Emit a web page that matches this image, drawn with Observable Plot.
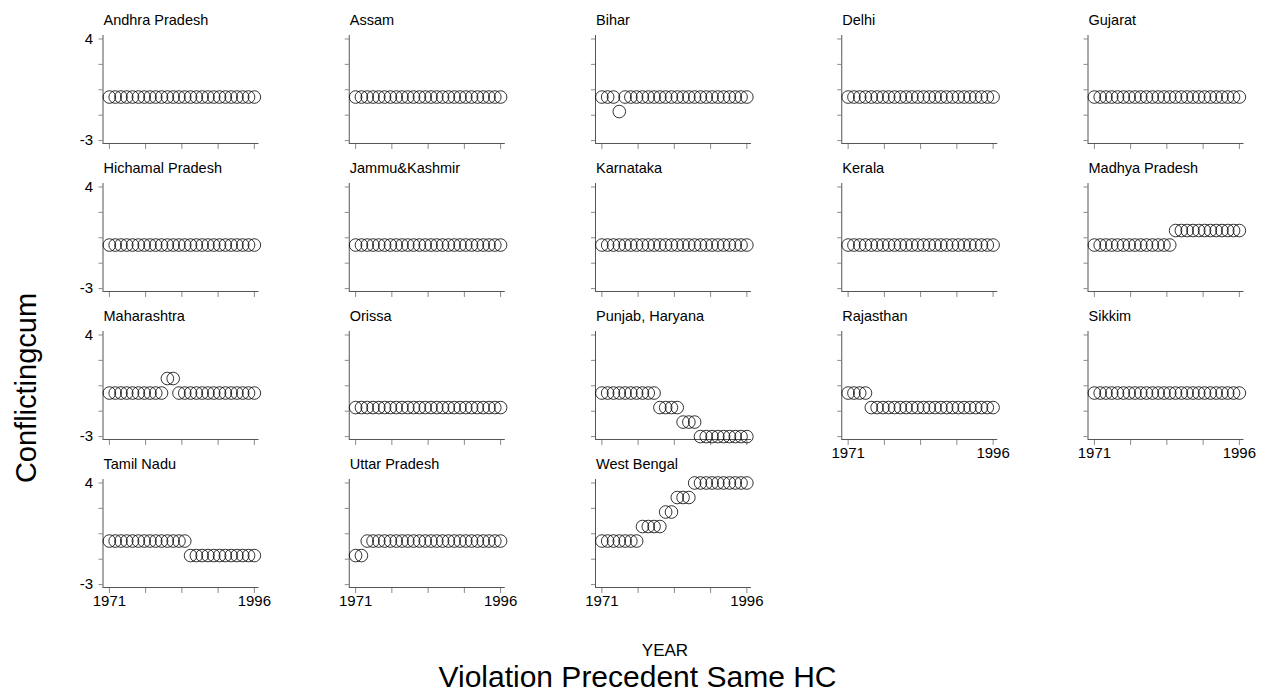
<!DOCTYPE html>
<html>
<head>
<meta charset="utf-8">
<script src="https://cdn.jsdelivr.net/npm/d3@7"></script>
<script src="https://cdn.jsdelivr.net/npm/@observablehq/plot@0.6"></script>
<style>
  html, body { margin: 0; padding: 0; background: #ffffff; }
  #chart { width: 1266px; height: 693px; }
</style>
</head>
<body>
<div id="chart"></div>
<script>
// ---- data ----
const states = [
  "Andhra Pradesh", "Assam", "Bihar", "Delhi", "Gujarat",
  "Hichamal Pradesh", "Jammu&Kashmir", "Karnataka", "Kerala", "Madhya Pradesh",
  "Maharashtra", "Orissa", "Punjab, Haryana", "Rajasthan", "Sikkim",
  "Tamil Nadu", "Uttar Pradesh", "West Bengal"
];
const years = [1971, 1972, 1973, 1974, 1975, 1976, 1977, 1978, 1979, 1980,
               1981, 1982, 1983, 1984, 1985, 1986, 1987, 1988, 1989, 1990,
               1991, 1992, 1993, 1994, 1995, 1996];

const andhraPradesh  = [0,0,0,0,0,0,0,0,0,0,0,0,0,0,0,0,0,0,0,0,0,0,0,0,0,0];
const assam          = [0,0,0,0,0,0,0,0,0,0,0,0,0,0,0,0,0,0,0,0,0,0,0,0,0,0];
const bihar          = [0,0,0,-1,0,0,0,0,0,0,0,0,0,0,0,0,0,0,0,0,0,0,0,0,0,0];
const delhi          = [0,0,0,0,0,0,0,0,0,0,0,0,0,0,0,0,0,0,0,0,0,0,0,0,0,0];
const gujarat        = [0,0,0,0,0,0,0,0,0,0,0,0,0,0,0,0,0,0,0,0,0,0,0,0,0,0];
const himachal       = [0,0,0,0,0,0,0,0,0,0,0,0,0,0,0,0,0,0,0,0,0,0,0,0,0,0];
const jammuKashmir   = [0,0,0,0,0,0,0,0,0,0,0,0,0,0,0,0,0,0,0,0,0,0,0,0,0,0];
const karnataka      = [0,0,0,0,0,0,0,0,0,0,0,0,0,0,0,0,0,0,0,0,0,0,0,0,0,0];
const kerala         = [0,0,0,0,0,0,0,0,0,0,0,0,0,0,0,0,0,0,0,0,0,0,0,0,0,0];
const madhyaPradesh  = [0,0,0,0,0,0,0,0,0,0,0,0,0,0,1,1,1,1,1,1,1,1,1,1,1,1];
const maharashtra    = [0,0,0,0,0,0,0,0,0,0,1,1,0,0,0,0,0,0,0,0,0,0,0,0,0,0];
const orissa         = [-1,-1,-1,-1,-1,-1,-1,-1,-1,-1,-1,-1,-1,-1,-1,-1,-1,-1,-1,-1,-1,-1,-1,-1,-1,-1];
const punjabHaryana  = [0,0,0,0,0,0,0,0,0,0,-1,-1,-1,-1,-2,-2,-2,-3,-3,-3,-3,-3,-3,-3,-3,-3];
const rajasthan      = [0,0,0,0,-1,-1,-1,-1,-1,-1,-1,-1,-1,-1,-1,-1,-1,-1,-1,-1,-1,-1,-1,-1,-1,-1];
const sikkim         = [0,0,0,0,0,0,0,0,0,0,0,0,0,0,0,0,0,0,0,0,0,0,0,0,0,0];
const tamilNadu      = [0,0,0,0,0,0,0,0,0,0,0,0,0,0,-1,-1,-1,-1,-1,-1,-1,-1,-1,-1,-1,-1];
const uttarPradesh   = [-1,-1,0,0,0,0,0,0,0,0,0,0,0,0,0,0,0,0,0,0,0,0,0,0,0,0];
const westBengal     = [0,0,0,0,0,0,0,1,1,1,1,2,2,3,3,3,4,4,4,4,4,4,4,4,4,4];

const seriesValues = [
  andhraPradesh, assam, bihar, delhi, gujarat,
  himachal, jammuKashmir, karnataka, kerala, madhyaPradesh,
  maharashtra, orissa, punjabHaryana, rajasthan, sikkim,
  tamilNadu, uttarPradesh, westBengal
];

const xTicks = [1971, 1977.25, 1983.5, 1989.75, 1996];
const xTickLabels = [1971, 1996];
const yTicks = [-3, -1.25, 0.5, 2.25, 4];
const yTickLabels = [-3, 4];
const xDomain = [1969.9, 1996.8];
const yDomain = [-3.2, 4.24];
const yTitle = "Conflictingcum";
const xTitle = "YEAR";
const noteTitle = "Violation Precedent Same HC";
const nCols = 5;

// ---- build tables ----
const panels = states.map((s, i) => ({state: s, col: i % nCols, row: Math.floor(i / nCols)}));
const points = panels.flatMap((p, i) =>
  years.map((yr, j) => ({state: p.state, col: p.col, row: p.row, year: yr, value: seriesValues[i][j]})));

const font = "'Liberation Sans', Arial, Helvetica, sans-serif";

const chart = Plot.plot({
  width: 1266,
  height: 693,
  marginLeft: 102.5,
  marginRight: 22.5,
  marginTop: 35,
  marginBottom: 106,
  facetMarginTop: 0,
  facetMarginRight: 0,
  facetMarginBottom: 0,
  facetMarginLeft: 0,
  style: {fontFamily: font, fontSize: "15px", background: "#ffffff", color: "#000000"},
  fx: {domain: [0, 1, 2, 3, 4], paddingInner: 0.3665, paddingOuter: 0, round: false, axis: null, label: null},
  fy: {domain: [0, 1, 2, 3], paddingInner: 0.2703, paddingOuter: 0, round: false, axis: null, label: null},
  x: {domain: xDomain, label: null},
  y: {domain: yDomain, label: null},
  marks: [
    // tick marks on every panel
    Plot.axisX({ticks: xTicks, tickSize: 6, tickFormat: () => "", stroke: "#8a8a8a", facetAnchor: null, label: null}),
    Plot.axisY({ticks: yTicks, tickSize: 4, tickFormat: () => "", stroke: "#8a8a8a", facetAnchor: null, label: null}),
    // tick labels on outer panels
    Plot.axisX({ticks: xTickLabels, tickSize: 0, tickPadding: 8, tickFormat: d => String(d), fontSize: 15,
                fill: "#000", facetAnchor: "bottom-empty", label: null}),
    Plot.axisY({ticks: yTickLabels, tickSize: 0, tickPadding: 10, tickFormat: d => String(d), fontSize: 15,
                fill: "#000", facetAnchor: "left", label: null}),
    // axis lines (left and bottom)
    Plot.ruleX(panels, {fx: "col", fy: "row", x: () => xDomain[0], y1: () => yDomain[0], y2: () => yDomain[1],
                        stroke: "#555", strokeWidth: 1}),
    Plot.ruleY(panels, {fx: "col", fy: "row", y: () => yDomain[0], x1: () => xDomain[0], x2: () => xDomain[1],
                        stroke: "#555", strokeWidth: 1}),
    // points
    Plot.dot(points, {fx: "col", fy: "row", x: "year", y: "value", r: 6.3,
                      stroke: "#000", strokeWidth: 0.8, fill: "none"}),
    // panel titles
    Plot.text(panels, {fx: "col", fy: "row", text: "state", frameAnchor: "top-left", dx: 0.5, dy: -10.5,
                       textAnchor: "start", lineAnchor: "bottom", fontSize: 14.5, fill: "#000"})
  ]
});

document.getElementById("chart").appendChild(chart);

const svg = d3.select(chart);
svg.append("text")
  .attr("transform", "translate(36,388) rotate(-90)")
  .attr("text-anchor", "middle")
  .attr("fill", "#000")
  .style("font-family", font)
  .style("font-size", "29px")
  .text(yTitle);
svg.append("text")
  .attr("x", 665)
  .attr("y", 655.5)
  .attr("text-anchor", "middle")
  .attr("fill", "#000")
  .style("font-family", font)
  .style("font-size", "17px")
  .text(xTitle);
svg.append("text")
  .attr("x", 637.5)
  .attr("y", 686.5)
  .attr("text-anchor", "middle")
  .attr("fill", "#000")
  .style("font-family", font)
  .style("font-size", "30px")
  .text(noteTitle);
</script>
</body>
</html>
